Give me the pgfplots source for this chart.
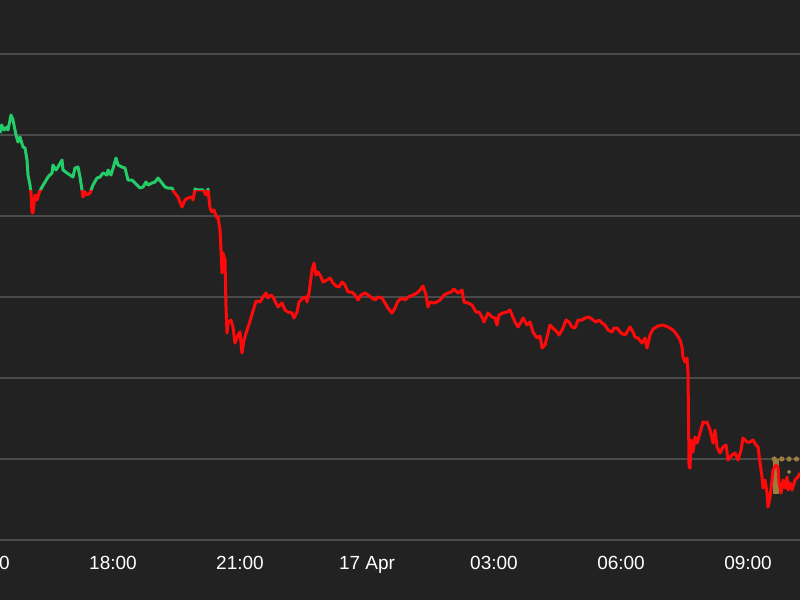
\documentclass[border=0pt]{standalone}
\usepackage{fontspec}
\setmainfont{Liberation Sans}
\usepackage{pgfplots}
\pgfplotsset{compat=1.18}
\usepackage{pgfplotstable}
\usetikzlibrary{backgrounds,calc}
\definecolor{bg}{HTML}{222222}
\definecolor{gridc}{HTML}{4A4A4A}
\definecolor{up}{HTML}{23CE68}
\definecolor{down}{HTML}{FF0A0A}
\definecolor{gold}{HTML}{9C7D3D}

% px = horizontal position, py = vertical position
\pgfplotstableread{
px py
0 133
1.7 125
4 130
7 127
8 130
11 115
13 120
16 135
18 142
20 137
23 147
25 148
27 160
28 175
30 185
31 193
32 212
33 213
35 195
37 200
39 193
42 187
45 182
48 177
52 173
53 165
56 170
58 167
62 160
63 170
67 173
70 175
73 177
75 168
78 167
80 177
82 190
83 197
85 192
87 195
90 193
93 185
97 178
100 177
103 173
107 175
108 170
111 175
113 167
116 158
118 165
122 167
125 168
128 180
132 180
135 183
140 188
143 187
146 182
148 185
152 183
155 182
158 178
162 183
165 187
168 188
172 188
174 192
178 197
182 207
185 200
188 198
192 197
193 200
195 189
198 190
203 190
206 195
208 189
210 208
212 212
214 210
217 218
218 217
220 230
221 250
222 273
223 253
225 260
226 307
227 333
228 323
231 320
233 327
235 343
238 335
240 332
242 353
244 340
247 330
250 321
253 311
256 301
260 302
263 297
266 293
268 298
271 295
273 297
276 303
278 307
282 303
285 310
288 312
292 313
294 318
297 312
299 302
303 298
306 297
307 302
309 293
312 270
314 263
316 275
318 272
321 277
323 282
327 280
330 278
333 283
336 286
339 287
342 282
345 285
348 292
352 292
355 295
358 300
361 295
365 293
368 295
372 298
375 300
378 297
382 298
385 303
388 308
392 313
395 308
398 301
402 298
405 300
408 297
413 295
417 293
420 290
423 286
426 295
428 307
430 302
433 303
437 302
440 300
444 295
448 293
451 292
454 289
458 293
460 292
462 290
464 302
468 303
472 305
476 312
479 312
482 317
484 322
488 313
492 317
495 318
497 325
499 315
503 313
507 312
510 310
512 315
515 322
518 327
521 322
523 318
527 325
530 322
533 332
537 338
540 336
542 348
545 345
547 337
550 325
553 328
557 332
559 335
563 328
566 320
569 322
572 327
575 328
578 320
582 320
585 318
589 317
593 320
596 322
599 320
602 323
605 325
608 330
612 332
614 328
617 328
621 333
625 335
627 332
630 327
633 332
635 337
638 338
642 343
645 338
647 348
650 335
653 329
658 326
663 325
668 327
673 330
677 335
680 340
682 347
683 357
685 362
687 358
688 373
688.5 420
689 467
690 468
691 440
693 452
695 437
697 443
700 433
703 422
705 423
707 422
710 430
713 443
715 430
717 447
720 453
723 447
726 445
728 460
732 455
735 453
738 460
741 450
743 438
747 442
750 442
753 440
756 445
758 447
760 463
762 477
763 488
765 480
767 493
768 507
770 497
772 480
773 470
776 465
778 468
779 483
781 493
783 480
785 488
787 477
788 490
790 483
792 490
795 480
798 477
800 473
}\price

\begin{document}
\begin{tikzpicture}
\begin{axis}[
  name=ax,
  scale only axis, width=400pt, height=270pt,
  xmin=0.3307, xmax=19.228, ymin=0, ymax=6.6667,
  axis line style={draw=none},
  xtick={3,6,9,12,15,18},
  xticklabels={18:00,21:00,17 Apr,03:00,06:00,09:00},
  ytick={0,1,2,3,4,5,6}, yticklabels={},
  ymajorgrids, grid style={gridc, line width=0.9pt},
  major tick length=0pt,
  xticklabel style={font=\fontsize{9.5}{11}\selectfont, text=white, anchor=base, inner sep=0pt, yshift=-14.5pt},
  clip=false,
]
\addplot[gold, line width=2.6pt, line cap=round, dash pattern=on 0pt off 3.7pt] coordinates {(18.62,1) (19.228,1)};
\addplot[gold, line width=2.8pt] coordinates {(18.66,1) (18.66,0.57)};
\addplot[gold, only marks, mark=*, mark size=0.8pt] coordinates {(18.97,0.84)};
\begin{scope}
\clip (axis cs:0,4.309) rectangle (axis cs:19.228,7);
\addplot[up, line width=1.5pt, line join=round]
  table[x expr=(\thisrow{px}+14)/42.3333, y expr=(540-\thisrow{py})/81] {\price};
\end{scope}
\begin{scope}
\clip (axis cs:0,-1) rectangle (axis cs:19.228,4.309);
\addplot[down, line width=1.5pt, line join=round]
  table[x expr=(\thisrow{px}+14)/42.3333, y expr=(540-\thisrow{py})/81] {\price};
\end{scope}
\node[font=\fontsize{9.5}{11}\selectfont, text=white, anchor=base, inner sep=0pt, yshift=-14.5pt] at (axis cs:0,0) {15:00};
\end{axis}
\begin{scope}[on background layer]
\fill[bg] ($(ax.south west)+(0,-30pt)$) rectangle (ax.north east);
\end{scope}
\pgfresetboundingbox
\path[use as bounding box] ($(ax.south west)+(0,-30pt)$) rectangle (ax.north east);
\end{tikzpicture}
\end{document}
